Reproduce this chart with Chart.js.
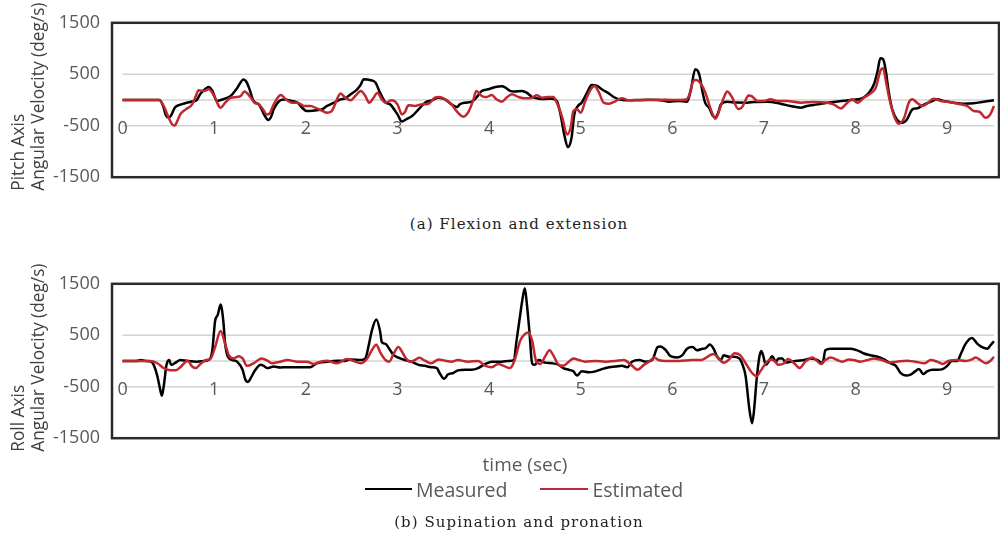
<!DOCTYPE html>
<html>
<head>
<meta charset="utf-8">
<script src="https://cdn.jsdelivr.net/npm/chart.js@4.4.1/dist/chart.umd.min.js"></script>
<style>
  body { margin: 0; width: 1000px; height: 535px; background: #fff; position: relative; overflow: hidden; font-family: 'Open Sans', sans-serif; }
  canvas { position: absolute; left: 0; }
  .label { position: absolute; transform: translate(-50%, -50%); white-space: nowrap; }
  .caption { font-family: 'DejaVu Serif', serif; font-size: 15px; letter-spacing: 1.05px; color: #222; }
  #xtitle { font-size: 19px; color: #595959; }
  #legend { position: absolute; left: 365px; top: 477px; height: 24px; display: flex; align-items: center; font-size: 19.5px; color: #595959; white-space: nowrap; }
  .swatch { display: inline-block; height: 2.5px; margin-right: 4px; }
</style>
</head>
<body>
<canvas id="pitch" width="1000" height="200" style="top:0"></canvas>
<canvas id="roll" width="1000" height="200" style="top:261px"></canvas>
<div class="label caption" style="left:519px;top:224px">(a) Flexion and extension</div>
<div class="label" id="xtitle" style="left:525px;top:464px">time (sec)</div>
<div id="legend">
  <span class="swatch" id="swMeasured" style="width:47px"></span><span>Measured</span>
  <span class="swatch" id="swEstimated" style="width:48px;margin-left:33px"></span><span>Estimated</span>
</div>
<div class="label caption" style="left:519px;top:522px">(b) Supination and pronation</div>

<script>
// ---- data (time in s, angular velocity in deg/s) ----
const pitchMeasuredT = [
  0, 0.4, 0.44, 0.47, 0.5, 0.53, 0.57, 0.6, 0.65, 0.7,
  0.76, 0.81, 0.85, 0.9, 0.94, 0.98, 1.03, 1.07, 1.1, 1.18,
  1.25, 1.32, 1.35, 1.38, 1.43, 1.49, 1.55, 1.59, 1.62, 1.65,
  1.71, 1.76, 1.85, 1.91, 1.96, 2.01, 2.07, 2.12, 2.18, 2.23,
  2.31, 2.38, 2.43, 2.49, 2.56, 2.6, 2.63, 2.71, 2.76, 2.81,
  2.87, 2.92, 3.0, 3.05, 3.1, 3.16, 3.23, 3.3, 3.37, 3.45,
  3.52, 3.59, 3.65, 3.68, 3.74, 3.81, 3.86, 3.92, 3.99, 4.07,
  4.14, 4.18, 4.23, 4.28, 4.36, 4.41, 4.47, 4.54, 4.61, 4.69,
  4.74, 4.78, 4.82, 4.86, 4.9, 4.93, 4.97, 5.01, 5.07, 5.12,
  5.18, 5.23, 5.31, 5.36, 5.42, 5.49, 5.6, 5.75, 5.9, 5.96,
  6.07, 6.16, 6.2, 6.25, 6.28, 6.3, 6.33, 6.36, 6.4, 6.44,
  6.47, 6.5, 6.53, 6.6, 6.7, 6.82, 6.89, 7.04, 7.18, 7.29,
  7.4, 7.47, 7.58, 7.69, 7.84, 7.98, 8.05, 8.11, 8.16, 8.2,
  8.24, 8.27, 8.3, 8.33, 8.36, 8.4, 8.45, 8.51, 8.56, 8.62,
  8.67, 8.75, 8.82, 8.89, 8.96, 9.07, 9.18, 9.29, 9.4, 9.51
];
const pitchMeasured = [
  0, 0, -100, -280, -340, -300, -150, -110, -80, -55,
  -30, 0, 120, 210, 255, 180, -20, 0, 15, 80,
  230, 400, 360, 240, -20, -90, -300, -390, -330, -180,
  -20, 10, -20, -55, -150, -215, -210, -200, -180, -117,
  -50, 13, 33, 110, 208, 300, 403, 383, 338, 143,
  -50, -85, -280, -420, -370, -312, -182, -52, -7, 45,
  13, -85, -137, -85, -52, -33, 45, 176, 208, 254,
  267, 240, 176, 163, 176, 143, 58, 26, 20, 26,
  -20, -280, -670, -917, -735, -280, -117, -52, 143, 293,
  273, 208, 124, 58, 13, -7, 0, 5, -10, -33,
  -20, -33, 176, 598, 560, 450, 150, -60, -150, -300,
  -345, -250, -85, -33, -50, -52, -39, -33, -72, -117,
  -150, -117, -85, -52, -20, 7, 20, 78, 176, 305,
  565, 813, 793, 565, 176, -182, -377, -442, -377, -182,
  -163, -85, -33, 13, -20, -52, -72, -65, -33, -7
];
const pitchEstimatedT = [
  0, 0.4, 0.45, 0.5, 0.54, 0.57, 0.6, 0.63, 0.69, 0.76,
  0.8, 0.83, 0.89, 0.94, 1.0, 1.05, 1.07, 1.12, 1.18, 1.25,
  1.29, 1.33, 1.4, 1.44, 1.49, 1.54, 1.57, 1.6, 1.65, 1.71,
  1.73, 1.78, 1.85, 1.91, 1.98, 2.05, 2.12, 2.18, 2.23, 2.28,
  2.31, 2.34, 2.38, 2.43, 2.49, 2.54, 2.6, 2.65, 2.69, 2.74,
  2.78, 2.83, 2.87, 2.94, 3.0, 3.05, 3.08, 3.12, 3.19, 3.26,
  3.34, 3.41, 3.45, 3.52, 3.59, 3.66, 3.72, 3.77, 3.83, 3.86,
  3.92, 3.97, 4.03, 4.08, 4.14, 4.19, 4.25, 4.32, 4.39, 4.47,
  4.52, 4.58, 4.65, 4.7, 4.74, 4.8, 4.85, 4.89, 4.92, 4.96,
  5.0, 5.05, 5.11, 5.15, 5.2, 5.25, 5.31, 5.38, 5.45, 5.53,
  5.7, 5.85, 6.0, 6.15, 6.18, 6.23, 6.26, 6.31, 6.36, 6.42,
  6.47, 6.53, 6.56, 6.6, 6.65, 6.72, 6.76, 6.79, 6.83, 6.87,
  6.93, 7.0, 7.07, 7.15, 7.25, 7.4, 7.55, 7.69, 7.76, 7.84,
  7.91, 7.96, 8.02, 8.09, 8.16, 8.22, 8.27, 8.3, 8.33, 8.37,
  8.42, 8.47, 8.53, 8.58, 8.62, 8.67, 8.73, 8.78, 8.85, 8.93,
  9.0, 9.11, 9.22, 9.29, 9.35, 9.42, 9.47, 9.51
];
const pitchEstimated = [
  0, 0, -120, -330, -470, -494, -400, -280, -182, -85,
  78, 188, 176, 208, 78, -117, -150, -52, 45, 58,
  78, 163, 45, -52, -85, -200, -280, -270, -85, 78,
  98, 13, -52, -52, -117, -117, -163, -210, -247, -220,
  -120, 13, 124, 45, -7, 78, 176, 78, -52, 45,
  143, 13, -52, -7, -85, -280, -240, -100, -117, -85,
  -72, 45, 58, 13, -85, -247, -325, -247, 13, 176,
  78, 58, 98, 13, -33, 45, 110, 58, 33, 45,
  91, 45, 58, 58, -52, -345, -670, -540, -215, -182,
  -247, -20, 208, 273, 143, -52, -72, -20, 33, -7,
  0, 5, 0, 10, 78, 370, 390, 320, 143, -182,
  -364, -110, 40, 163, 58, -175, -140, -40, 88, 70,
  -20, -20, 13, -20, -20, -52, -39, -52, -85, -163,
  -52, 13, -52, 45, 124, 240, 565, 618, 370, 13,
  -312, -462, -345, -52, 13, -52, -117, -72, 26, -20,
  -33, -72, -117, -215, -228, -345, -280, -117
];
const rollMeasuredT = [
  0, 0.15, 0.2, 0.25, 0.31, 0.34, 0.38, 0.41, 0.43, 0.45,
  0.48, 0.51, 0.53, 0.58, 0.63, 0.71, 0.81, 0.89, 0.95, 0.98,
  1.01, 1.04, 1.07, 1.1, 1.12, 1.15, 1.2, 1.25, 1.31, 1.34,
  1.37, 1.4, 1.45, 1.51, 1.54, 1.58, 1.65, 1.72, 1.8, 1.91,
  2.01, 2.05, 2.12, 2.23, 2.34, 2.41, 2.49, 2.6, 2.65, 2.69,
  2.72, 2.77, 2.81, 2.83, 2.87, 2.91, 2.96, 3.03, 3.08, 3.15,
  3.23, 3.3, 3.37, 3.43, 3.46, 3.51, 3.55, 3.61, 3.66, 3.74,
  3.81, 3.88, 3.96, 4.03, 4.14, 4.21, 4.27, 4.3, 4.34, 4.36,
  4.39, 4.41, 4.44, 4.47, 4.5, 4.54, 4.61, 4.69, 4.76, 4.81,
  4.87, 4.92, 4.96, 5.01, 5.09, 5.16, 5.23, 5.31, 5.38, 5.45,
  5.51, 5.56, 5.64, 5.71, 5.78, 5.84, 5.87, 5.93, 5.98, 6.05,
  6.11, 6.16, 6.22, 6.27, 6.33, 6.36, 6.41, 6.45, 6.49, 6.53,
  6.56, 6.62, 6.67, 6.73, 6.76, 6.8, 6.84, 6.87, 6.89, 6.92,
  6.95, 6.97, 6.99, 7.02, 7.05, 7.09, 7.13, 7.16, 7.2, 7.24,
  7.29, 7.36, 7.44, 7.51, 7.58, 7.64, 7.67, 7.73, 7.84, 7.95,
  8.02, 8.09, 8.16, 8.24, 8.31, 8.38, 8.44, 8.49, 8.55, 8.6,
  8.65, 8.69, 8.74, 8.78, 8.84, 8.89, 8.95, 9.0, 9.05, 9.11,
  9.15, 9.2, 9.27, 9.33, 9.38, 9.44, 9.47, 9.51
];
const rollMeasured = [
  0, 0, 19, 0, -13, -75, -296, -547, -673, -484,
  -75, 19, -75, -31, 19, 0, -13, 0, 31, 208,
  774, 900, 1100, 774, 333, 82, 19, -13, -170, -359,
  -409, -327, -170, -75, -94, -138, -107, -126, -120, -120,
  -120, -120, -44, -13, 6, 0, 31, 19, 50, 333,
  585, 805, 585, 365, 333, 239, 113, 50, 19, -13,
  -75, -94, -120, -138, -233, -346, -264, -233, -182, -170,
  -170, -138, -57, -13, -13, 0, 19, 396, 900, 1151,
  1415, 1151, 585, -44, -75, 19, -31, -44, -75, -138,
  -170, -201, -283, -201, -220, -201, -157, -120, -107, -94,
  -120, -13, 19, -13, 19, 270, 283, 208, 94, 69,
  113, 239, 270, 208, 239, 245, 321, 239, 82, 19,
  113, 82, 82, 50, -44, -296, -925, -1208, -988, -359,
  82, 195, 113, -75, -13, 94, -13, 50, 50, -31,
  -13, 6, 19, 50, 19, -44, 208, 239, 239, 239,
  208, 145, 113, 82, 31, -44, -94, -233, -283, -264,
  -201, -157, -252, -201, -170, -170, -157, -94, 0, 0,
  145, 333, 447, 333, 270, 239, 302, 384
];
const rollEstimatedT = [
  0, 0.3, 0.38, 0.45, 0.52, 0.58, 0.63, 0.69, 0.71, 0.76,
  0.8, 0.85, 0.91, 0.96, 1.01, 1.07, 1.12, 1.16, 1.21, 1.27,
  1.31, 1.36, 1.43, 1.52, 1.58, 1.63, 1.72, 1.8, 1.91, 2.01,
  2.09, 2.16, 2.23, 2.34, 2.45, 2.52, 2.6, 2.67, 2.72, 2.77,
  2.81, 2.87, 2.91, 2.96, 3.01, 3.05, 3.09, 3.14, 3.19, 3.24,
  3.3, 3.37, 3.45, 3.52, 3.59, 3.66, 3.77, 3.88, 3.96, 4.03,
  4.1, 4.16, 4.23, 4.28, 4.34, 4.39, 4.43, 4.47, 4.51, 4.56,
  4.61, 4.66, 4.7, 4.76, 4.81, 4.87, 4.92, 4.98, 5.05, 5.16,
  5.27, 5.38, 5.47, 5.55, 5.62, 5.69, 5.77, 5.8, 5.85, 5.93,
  6.07, 6.22, 6.31, 6.45, 6.5, 6.56, 6.62, 6.68, 6.74, 6.8,
  6.87, 6.92, 6.96, 7.02, 7.07, 7.11, 7.16, 7.22, 7.26, 7.33,
  7.39, 7.45, 7.53, 7.57, 7.62, 7.67, 7.73, 7.8, 7.85, 7.93,
  7.98, 8.05, 8.13, 8.2, 8.29, 8.36, 8.45, 8.56, 8.65, 8.75,
  8.82, 8.89, 8.95, 9.02, 9.11, 9.2, 9.27, 9.31, 9.36, 9.42,
  9.47, 9.51
];
const rollEstimated = [
  0, 0, -44, -138, -182, -182, -120, -13, 6, -107,
  -138, -57, 19, 44, 270, 585, 333, 113, 50, 94,
  50, -94, -44, 50, 6, -44, -13, 19, -13, -13,
  -57, -13, 6, -44, 38, 0, -44, 50, 208, 315,
  176, 19, -13, 145, 270, 180, 60, -13, 19, 63,
  6, -44, 31, 6, -13, 19, -13, 0, -94, -120,
  -57, -94, -138, 19, 396, 522, 553, 396, 19, -57,
  82, 208, 113, -75, -94, -13, 50, 19, -13, 0,
  -13, 0, 19, -75, -170, -75, 19, 69, 19, 0,
  0, 19, 19, 138, 60, -35, 31, 151, 113, -44,
  -233, -296, -201, -44, 31, 6, -75, -44, 38, -44,
  -138, -13, 69, 19, -57, 19, 69, 19, -13, 31,
  19, -13, 19, 50, 19, -31, -13, 6, -13, -44,
  19, -13, -57, 6, 19, 0, 31, 69, 19, -44,
  0, 82
];
const xTickLabels = [0, 1, 2, 3, 4, 5, 6, 7, 8, 9];
const yTickLabels = [-1500, -500, 500, 1500];
const gridValues = [-500, 0, 500];

const MEASURED_COLOR = '#000000';
const ESTIMATED_COLOR = '#c0272f';

function toPoints(times, values) {
  return times.map((t, i) => ({ x: t, y: values[i] }));
}

// gridlines, x labels under the lines, frame and the two-line axis title on top
const framePlugin = {
  id: 'frame',
  beforeDatasetsDraw(chart, args, opts) {
    const { ctx, scales: { x, y } } = chart;
    ctx.save();
    ctx.strokeStyle = '#d3d3d3';
    ctx.lineWidth = 1.5;
    const x0 = x.getPixelForValue(0);
    const x1 = x.getPixelForValue(opts.gridEnd);
    gridValues.forEach(v => {
      const py = y.getPixelForValue(v);
      ctx.beginPath();
      ctx.moveTo(x0, py);
      ctx.lineTo(x1, py);
      ctx.stroke();
    });
    ctx.fillStyle = '#595959';
    ctx.font = '18px "Open Sans"';
    ctx.textAlign = 'center';
    ctx.textBaseline = 'middle';
    const ly = y.getPixelForValue(-500) + 3;
    xTickLabels.forEach(t => ctx.fillText(String(t), x.getPixelForValue(t), ly));
    ctx.restore();
  },
  afterDraw(chart, args, opts) {
    const { ctx, chartArea } = chart;
    ctx.save();
    ctx.strokeStyle = '#2b2b2b';
    ctx.lineWidth = 2.5;
    ctx.strokeRect(chartArea.left, chartArea.top, chartArea.right - chartArea.left, chartArea.bottom - chartArea.top);
    ctx.fillStyle = '#3f3f3f';
    ctx.font = '17.3px "Open Sans"';
    ctx.textAlign = 'left';
    ctx.textBaseline = 'alphabetic';
    opts.title.forEach((line, i) => {
      ctx.save();
      ctx.translate(23.5 + i * 20, chartArea.bottom + 13.5);
      ctx.rotate(-Math.PI / 2);
      ctx.fillText(line, 0, 0);
      ctx.restore();
    });
    ctx.restore();
  }
};

function makeChart(canvasId, measT, meas, estT, est, title) {
  return new Chart(document.getElementById(canvasId), {
    type: 'line',
    data: {
      datasets: [
        {
          label: 'Measured',
          data: toPoints(measT, meas),
          borderColor: MEASURED_COLOR,
          borderWidth: 2.5,
          pointRadius: 0,
          cubicInterpolationMode: 'monotone',
          order: 1,
        },
        {
          label: 'Estimated',
          data: toPoints(estT, est),
          borderColor: ESTIMATED_COLOR,
          borderWidth: 2.5,
          pointRadius: 0,
          cubicInterpolationMode: 'monotone',
          order: 0,
        },
      ],
    },
    options: {
      responsive: false,
      animation: false,
      devicePixelRatio: 1,
      layout: { padding: { top: 18, bottom: 22, left: 0, right: 1 } },
      plugins: {
        legend: { display: false },
        tooltip: { enabled: false },
        frame: { title: title, gridEnd: measT[measT.length - 1] },
      },
      scales: {
        x: { type: 'linear', min: -0.115, max: 9.565, display: false },
        y: {
          min: -1500,
          max: 1500,
          border: { display: false },
          grid: { display: false, drawTicks: false },
          afterFit: scale => { scale.width = 112; },
          ticks: {
            stepSize: 500,
            padding: 12,
            color: '#595959',
            font: { family: 'Open Sans', size: 18 },
            callback: v => (yTickLabels.includes(v) ? String(v) : ''),
          },
        },
      },
    },
    plugins: [framePlugin],
  });
}

document.getElementById('swMeasured').style.background = MEASURED_COLOR;
document.getElementById('swEstimated').style.background = ESTIMATED_COLOR;

makeChart('pitch', pitchMeasuredT, pitchMeasured, pitchEstimatedT, pitchEstimated,
  ['Pitch Axis', 'Angular Velocity (deg/s)']);
makeChart('roll', rollMeasuredT, rollMeasured, rollEstimatedT, rollEstimated,
  ['Roll Axis', 'Angular Velocity (deg/s)']);
</script>
</body>
</html>
